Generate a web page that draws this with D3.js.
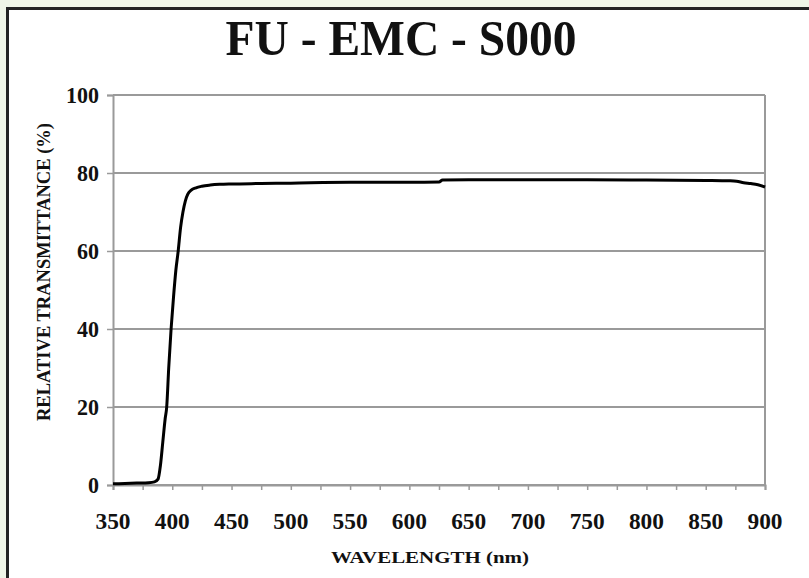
<!DOCTYPE html>
<html><head><meta charset="utf-8">
<script src="https://cdn.jsdelivr.net/npm/d3@7"></script>
<style>html,body{margin:0;padding:0;background:#eff5e7;}svg{display:block}</style>
</head><body>
<script>
const title = "FU - EMC - S000";
const xLabel = "WAVELENGTH (nm)";
const yLabel = "RELATIVE TRANSMITTANCE (%)";
const xTicks = [350,400,450,500,550,600,650,700,750,800,850,900];
const yTicks = [0,20,40,60,80,100];
const wavelength = [350,360,370,380,385,388,390,392,394,395.3,397,399,401,403,405,407,409,411,413,416,420,425,432,440,450,475,500,550,600,625,628,650,700,750,800,850,870,876,882,888,894,900];
const transmittance = [0.3,0.4,0.5,0.6,0.8,1.5,5,11,17,20,30,40,48,55,60,66,70,72.8,74.5,75.6,76.2,76.6,76.9,77.1,77.2,77.3,77.4,77.6,77.6,77.7,78.2,78.3,78.3,78.3,78.2,78.1,78.0,77.9,77.5,77.3,77.0,76.4];

const W=809,H=578;
const svg=d3.select("body").append("svg").attr("width",W).attr("height",H);
svg.append("rect").attr("x",0).attr("y",0).attr("width",W).attr("height",H).attr("fill","#eff5e7");
svg.append("rect").attr("x",7.5).attr("y",8.5).attr("width",W+10).attr("height",H+10)
  .attr("fill","#fff").attr("stroke","#222").attr("stroke-width",3);

const m={l:113,r:765,t:95,b:485};
const x=d3.scaleLinear().domain([350,900]).range([m.l,m.r]);
const y=d3.scaleLinear().domain([0,100]).range([m.b,m.t]);
const serif="'Liberation Serif','Times New Roman',serif";

svg.append("text").attr("x",401).attr("y",55).attr("text-anchor","middle")
  .attr("font-family",serif).attr("font-weight","bold").attr("font-size",50)
  .attr("textLength",351).attr("lengthAdjust","spacingAndGlyphs").attr("fill","#111").text(title);

// gridlines
svg.append("g").selectAll("line").data(yTicks).join("line")
  .attr("x1",m.l).attr("x2",m.r).attr("y1",d=>y(d)).attr("y2",d=>y(d))
  .attr("stroke","#9a9a9a").attr("stroke-width",2);
// right border
svg.append("line").attr("x1",m.r).attr("x2",m.r).attr("y1",m.t).attr("y2",m.b).attr("stroke","#9a9a9a").attr("stroke-width",2);

const yAxis=svg.append("g").attr("transform",`translate(${m.l},0)`)
  .call(d3.axisLeft(y).tickValues(yTicks).tickSize(6).tickPadding(8).tickFormat(d3.format("d")));
yAxis.select(".domain").attr("stroke","#9a9a9a").attr("stroke-width",2);
yAxis.selectAll(".tick line").attr("stroke","#9a9a9a").attr("stroke-width",1.5);
yAxis.selectAll("text").attr("font-family",serif).attr("font-weight","bold").attr("font-size",23).attr("fill","#111")
  .attr("textLength",d=>String(d).length*11).attr("lengthAdjust","spacingAndGlyphs");

const minor=d3.range(350,901,25);
const xAxis=svg.append("g").attr("transform",`translate(0,${m.b})`)
  .call(d3.axisBottom(x).tickValues(minor).tickSize(5).tickFormat(""));
xAxis.select(".domain").attr("stroke","#9a9a9a").attr("stroke-width",2);
xAxis.selectAll(".tick line").attr("stroke","#9a9a9a").attr("stroke-width",1.5);

svg.append("g").selectAll("text").data(xTicks).join("text")
  .attr("x",d=>x(d)).attr("y",m.b+44).attr("text-anchor","middle")
  .attr("font-family",serif).attr("font-weight","bold").attr("font-size",24).attr("fill","#111")
  .attr("textLength",35).attr("lengthAdjust","spacingAndGlyphs")
  .text(d=>d);

svg.append("text").attr("x",430).attr("y",563).attr("text-anchor","middle")
  .attr("font-family",serif).attr("font-weight","bold").attr("font-size",17)
  .attr("textLength",198).attr("lengthAdjust","spacingAndGlyphs").attr("fill","#111").text(xLabel);
svg.append("text").attr("transform","translate(50,272) rotate(-90)").attr("text-anchor","middle")
  .attr("font-family",serif).attr("font-weight","bold").attr("font-size",18)
  .attr("textLength",298).attr("lengthAdjust","spacingAndGlyphs").attr("fill","#111").text(yLabel);

const pts=wavelength.map((w,i)=>[w,transmittance[i]]);
svg.append("path").datum(pts)
  .attr("d",d3.line().x(d=>x(d[0])).y(d=>y(d[1])).curve(d3.curveMonotoneX))
  .attr("fill","none").attr("stroke","#000").attr("stroke-width",3).attr("stroke-linejoin","round");
</script>
</body></html>
